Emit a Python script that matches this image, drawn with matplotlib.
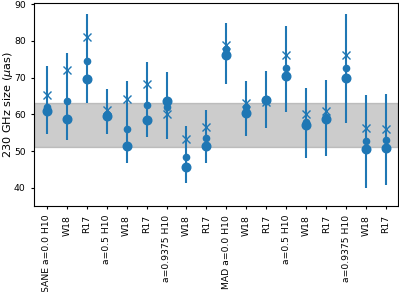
import numpy as np
import matplotlib
matplotlib.use('Agg')
import matplotlib.pyplot as plt

labels = ['SANE a=0.0 H10', 'W18', 'R17',
          'a=0.5 H10', 'W18', 'R17',
          'a=0.9375 H10', 'W18', 'R17',
          'MAD a=0.0 H10', 'W18', 'R17',
          'a=0.5 H10', 'W18', 'R17',
          'a=0.9375 H10', 'W18', 'R17']

# small dots (with error bars), large dots, crosses
size_med = [61.9, 63.7, 74.5, 60.0, 56.1, 62.5, 62.0, 48.4, 53.7,
            77.7, 62.0, 64.2, 72.5, 57.9, 59.3, 72.7, 52.7, 53.1]
size_big = [60.8, 58.7, 69.5, 59.6, 51.3, 58.4, 63.6, 45.7, 51.4,
            76.1, 60.5, 64.0, 70.5, 57.0, 58.7, 69.8, 50.7, 50.8]
size_x = [65.2, 72.0, 81.1, 61.3, 64.1, 68.4, 60.2, 53.4, 56.6,
          78.8, 63.2, 63.5, 76.1, 60.2, 60.8, 76.1, 56.3, 56.1]
err_lo = [54.8, 52.9, 63.1, 54.6, 46.9, 53.8, 53.4, 41.4, 46.8,
          68.4, 54.0, 56.4, 60.7, 48.2, 48.8, 57.7, 40.1, 40.7]
err_hi = [73.1, 76.8, 87.3, 67.0, 69.0, 74.3, 71.4, 56.8, 61.1,
          84.9, 69.0, 71.7, 84.0, 67.2, 69.3, 87.2, 65.2, 65.5]

# observed range
band_lo, band_hi = 51, 63

x = np.arange(len(labels))
med = np.array(size_med)
yerr = [med - np.array(err_lo), np.array(err_hi) - med]

fig = plt.figure(figsize=(3.99, 2.92), dpi=100)
ax = fig.add_axes([0.0852, 0.2935, 0.9123, 0.6962])

ax.axhspan(band_lo, band_hi, color='gray', alpha=0.4)
ax.errorbar(x, med, yerr=yerr, fmt='o', color='C0', ms=4.5, elinewidth=1.5)
ax.plot(x, size_big, 'o', color='C0', ms=6.2)
ax.plot(x, size_x, 'x', color='C0', ms=6, mew=1)

ax.set_xticks(x)
ax.set_xticklabels(labels, rotation=90)
ax.set_xlim(-0.64, 17.6)
ax.set_ylim(35, 90.3)
ax.set_yticks([40, 50, 60, 70, 80, 90])
ax.tick_params(labelsize=6.7, length=2.5)
ax.set_ylabel(r'230 GHz size ($\mu$as)', fontsize=8.1)
ax.yaxis.set_label_coords(-0.053, 0.5)

fig.savefig('out.png', dpi=100)
